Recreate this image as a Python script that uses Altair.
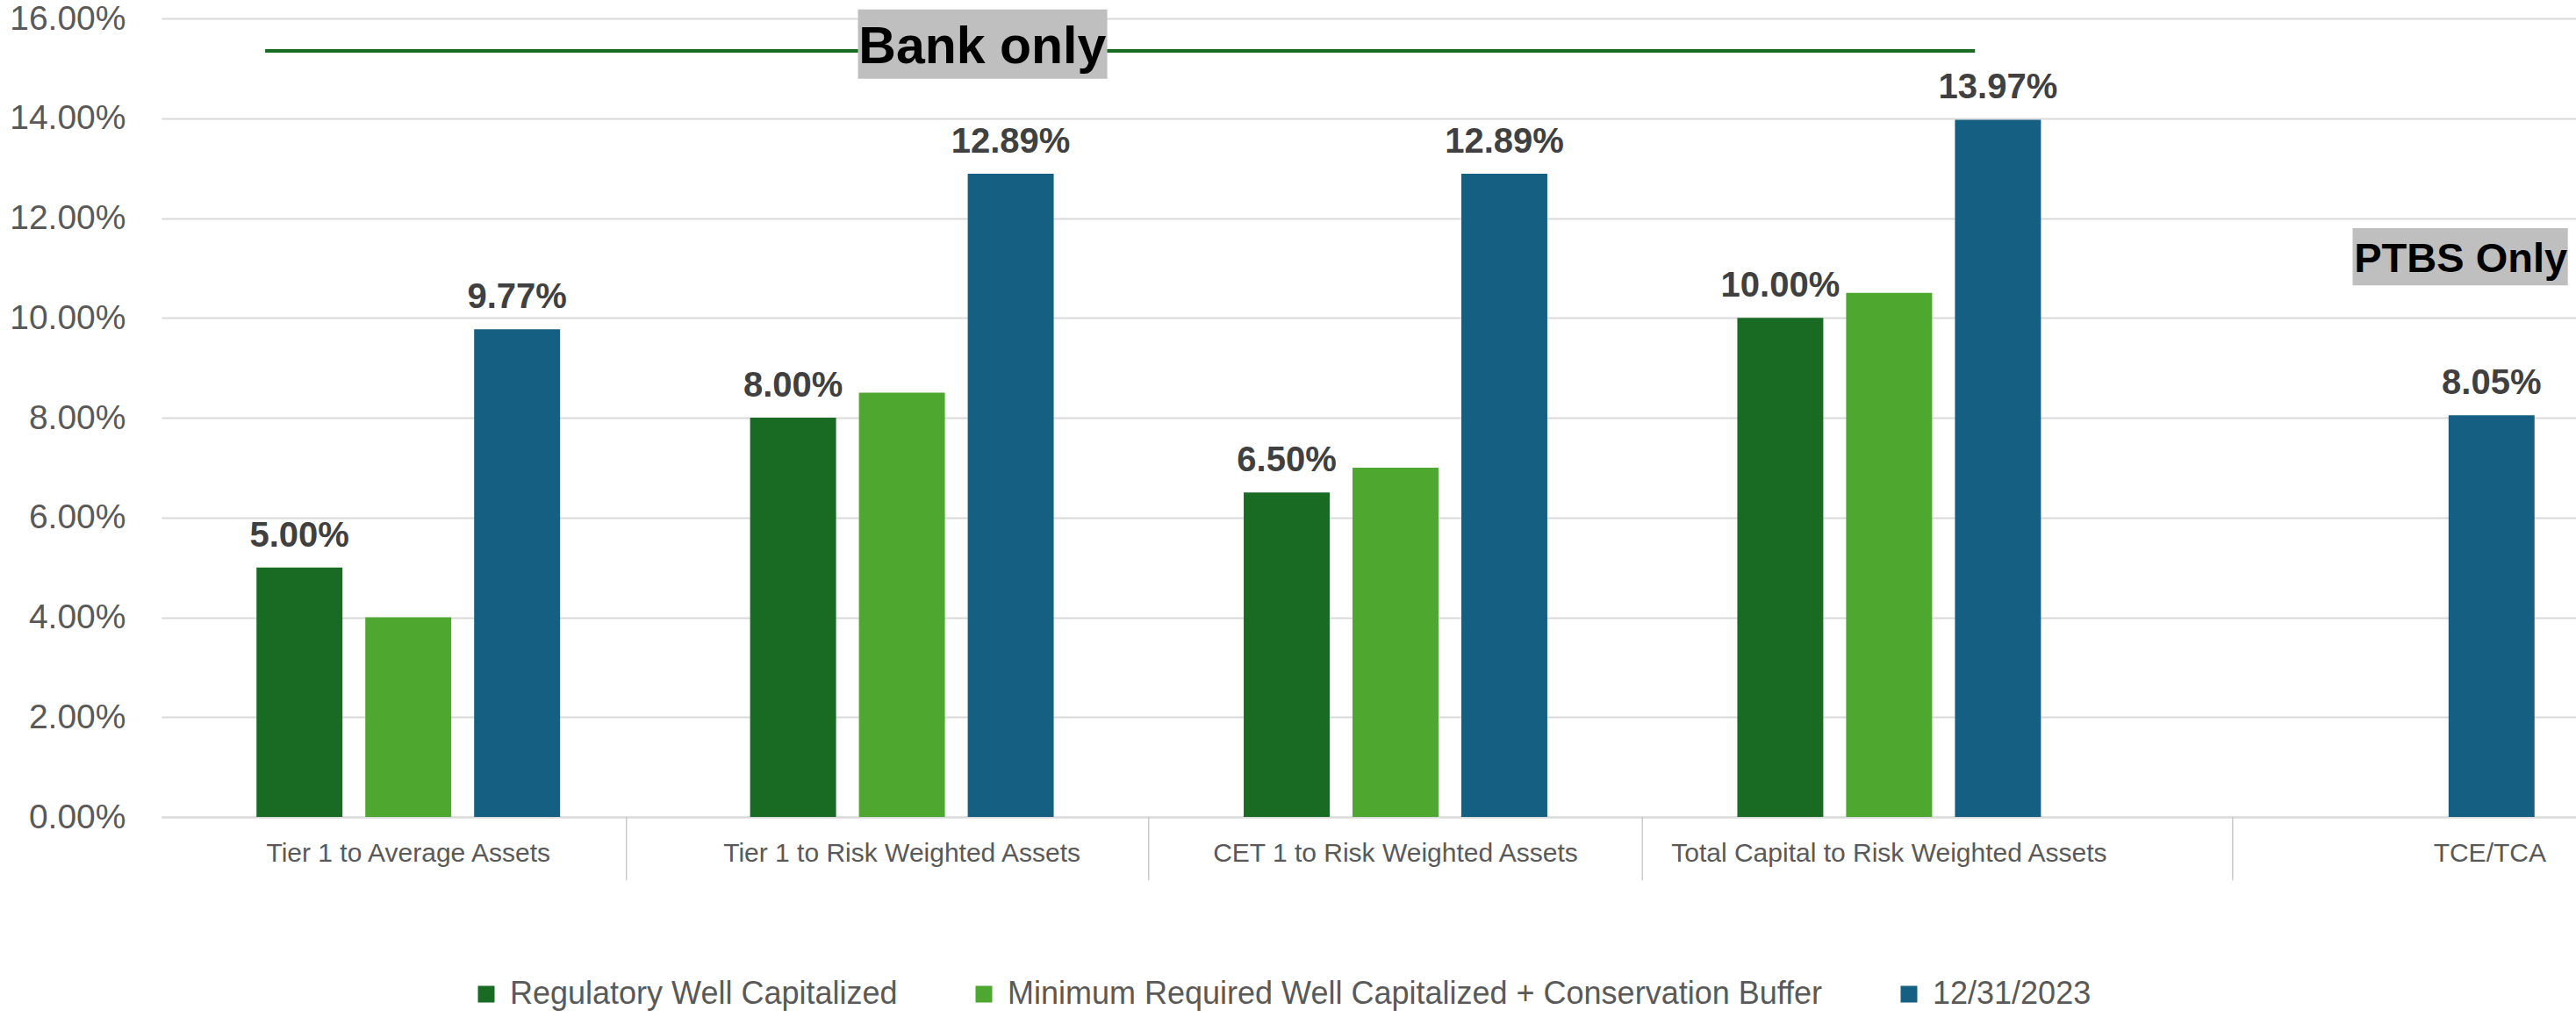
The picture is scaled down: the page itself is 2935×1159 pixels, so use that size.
import altair as alt
import pandas as pd

# ---------------- data ----------------
categories = [
    "Tier 1 to Average Assets",
    "Tier 1 to Risk Weighted Assets",
    "CET 1 to Risk Weighted Assets",
    "Total Capital to Risk Weighted Assets",
    "TCE/TCA",
]
series_names = [
    "Regulatory Well Capitalized",
    "Minimum Required Well Capitalized + Conservation Buffer",
    "12/31/2023",
]
regulatory_well_capitalized = [0.05, 0.08, 0.065, 0.10, None]
minimum_plus_buffer = [0.04, 0.085, 0.07, 0.105, None]
as_of_12_31_2023 = [0.0977, 0.1289, 0.1289, 0.1397, 0.0805]
labelled_series = ["Regulatory Well Capitalized", "12/31/2023"]
series_colors = ["#196B24", "#4EA72E", "#156082"]
y_tick_values = [0.0, 0.02, 0.04, 0.06, 0.08, 0.10, 0.12, 0.14, 0.16]

# annotations
bank_only_text = ["Bank only"]
bank_only_line_from = [categories[0]]
bank_only_line_to = [categories[3]]
bank_only_line_level = [0.1535]
bank_only_box_category = [categories[1]]
bank_only_box_top = [0.1618]
bank_only_box_bottom = [0.1479]
bank_only_text_level = [0.1511]

ptbs_only_text = ["PTBS Only"]
ptbs_only_category = [categories[4]]
ptbs_only_box_top = [0.1180]
ptbs_only_box_bottom = [0.1065]
ptbs_only_text_level = [0.1092]

# category separators below the axis
separator_top = 0.0
separator_bottom = -0.0127
separator_first = [categories[0]]
separator_middle = [categories[2], categories[3]]
separator_last = [categories[4]]

FONT = "Liberation Sans"

rows = []
for name, vals in zip(series_names, [regulatory_well_capitalized, minimum_plus_buffer, as_of_12_31_2023]):
    for cat, v in zip(categories, vals):
        if v is not None:
            rows.append({"category": cat, "series": name, "value": v})
df = pd.DataFrame(rows)

x_scale = alt.Scale(domain=categories, range=[0, 2812], paddingInner=0, paddingOuter=0)
y_scale = alt.Scale(domain=[0, 0.16], nice=False, zero=True)

x_axis = alt.Axis(
    title=None,
    labelAngle=0,
    labelFont=FONT,
    labelFontSize=30,
    labelColor="#595959",
    labelPadding=-44,
    labelLimit=1000,
    labelOffset=alt.ExprRef("datum.value === 'TCE/TCA' ? 122 : 0"),
    domainColor="#d9d9d9",
    domainWidth=2,
    tickSize=70,
    tickOpacity=0,
    grid=False,
)
y_axis = alt.Axis(
    title=None,
    values=y_tick_values,
    format=".2%",
    domain=False,
    ticks=False,
    tickSize=0,
    labelFont=FONT,
    labelFontSize=39,
    labelColor="#595959",
    labelPadding=41,
    gridColor="#d9d9d9",
    gridWidth=2,
)

x_enc = alt.X("category:N", scale=x_scale, axis=x_axis, sort=categories)
xoff_enc = alt.XOffset(
    "series:N",
    scale=alt.Scale(domain=series_names, paddingInner=0.21, paddingOuter=0.873),
)
y_enc = alt.Y("value:Q", scale=y_scale, axis=y_axis)

bars = alt.Chart(df).mark_bar(strokeWidth=0).encode(
    x=x_enc,
    xOffset=xoff_enc,
    y=y_enc,
    color=alt.Color(
        "series:N",
        scale=alt.Scale(domain=series_names, range=series_colors),
        legend=alt.Legend(
            title=None,
            orient="none",
            legendX=352,
            legendY=1094,
            direction="horizontal",
            columns=3,
            symbolType="square",
            symbolSize=361,
            symbolStrokeWidth=0,
            labelFont=FONT,
            labelFontSize=36,
            labelColor="#595959",
            labelLimit=2000,
            labelOffset=9,
            columnPadding=80,
            padding=0,
        ),
    ),
)

labels = (
    alt.Chart(df)
    .transform_filter(alt.FieldOneOfPredicate(field="series", oneOf=labelled_series))
    .mark_text(
        baseline="alphabetic",
        align="center",
        dy=-24,
        font=FONT,
        fontSize=40,
        fontWeight="bold",
        color="#404040",
    )
    .encode(
        x=x_enc,
        xOffset=xoff_enc,
        y=y_enc,
        text=alt.Text("value:Q", format=".2%"),
    )
)


def separators(cats, band_pos):
    sdf = pd.DataFrame(
        {"category": cats, "value": [separator_top] * len(cats), "value2": [separator_bottom] * len(cats)}
    )
    return alt.Chart(sdf).mark_rule(color="#bfbfbf", strokeWidth=1.2).encode(
        x=alt.X("category:N", bandPosition=band_pos),
        y=alt.Y("value:Q"),
        y2="value2",
    )


sep_a = separators(separator_first, 0.942)
sep_b = separators(separator_middle, 0.0)
sep_c = separators(separator_last, 0.196)

line_df = pd.DataFrame(
    {"category": bank_only_line_from, "category_end": bank_only_line_to, "value": bank_only_line_level}
)
bank_line = alt.Chart(line_df).mark_rule(color="#196B24", strokeWidth=4).encode(
    x=alt.X("category:N", bandPosition=0.21),
    x2=alt.X2("category_end", bandPosition=0.674),
    y=alt.Y("value:Q"),
)

bank_box_df = pd.DataFrame(
    {"category": bank_only_box_category, "value": bank_only_box_top, "value2": bank_only_box_bottom}
)
bank_box = alt.Chart(bank_box_df).mark_rect(color="#bfbfbf").encode(
    x=alt.X("category:N", bandPosition=0.411),
    x2=alt.X2("category", bandPosition=0.916),
    y=alt.Y("value:Q"),
    y2="value2",
)
bank_text_df = pd.DataFrame(
    {"category": bank_only_box_category, "value": bank_only_text_level, "label": bank_only_text}
)
bank_text = alt.Chart(bank_text_df).mark_text(
    font=FONT, fontSize=59, fontWeight="bold", color="#000000", baseline="alphabetic", align="center"
).encode(
    x=alt.X("category:N", bandPosition=0.663),
    y=alt.Y("value:Q"),
    text="label:N",
)

ptbs_box_df = pd.DataFrame(
    {"category": ptbs_only_category, "value": ptbs_only_box_top, "value2": ptbs_only_box_bottom}
)
ptbs_box = alt.Chart(ptbs_box_df).mark_rect(color="#bfbfbf").encode(
    x=alt.X("category:N", bandPosition=0.439),
    x2=alt.X2("category", bandPosition=0.875),
    y=alt.Y("value:Q"),
    y2="value2",
)
ptbs_text_df = pd.DataFrame(
    {"category": ptbs_only_category, "value": ptbs_only_text_level, "label": ptbs_only_text}
)
ptbs_text = alt.Chart(ptbs_text_df).mark_text(
    font=FONT, fontSize=47, fontWeight="bold", color="#000000", baseline="alphabetic", align="center"
).encode(
    x=alt.X("category:N", bandPosition=0.658),
    y=alt.Y("value:Q"),
    text="label:N",
)

chart = (
    alt.layer(
        bars, labels, sep_a, sep_b, sep_c, bank_line, bank_box, bank_text, ptbs_box, ptbs_text
    )
    .properties(
        width=2751,
        height=910,
        padding={"left": 184, "top": 21, "right": 0, "bottom": 228},
        autosize=alt.AutoSizeParams(type="none"),
        background="white",
    )
    .configure_view(stroke=None)
)

chart.save("out.html", embed_options={"renderer": "svg", "actions": False})
